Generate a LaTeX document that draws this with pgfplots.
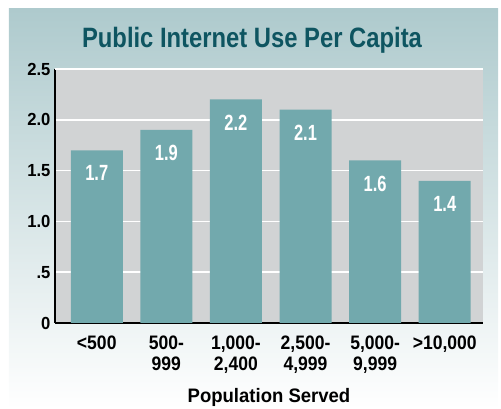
\documentclass[border=0pt]{standalone}
\usepackage{pgfplots}
\pgfplotsset{compat=1.18}
\usepackage{fontspec}
\setmainfont{Liberation Sans}[FakeStretch=0.9]
\newfontfamily\titlef{Liberation Sans}[FakeStretch=0.85]
\newfontfamily\tickf{Liberation Sans}[FakeStretch=0.95]
\newfontfamily\xtickf{Liberation Sans}[FakeStretch=0.9]
\newfontfamily\barf{Liberation Sans}[FakeStretch=0.75]
\newfontfamily\labf{Liberation Sans}[FakeStretch=0.95]
\definecolor{barc}{HTML}{72A9AD}
\definecolor{plotbg}{HTML}{D1D3D4}
\definecolor{titlec}{HTML}{0E5561}
\definecolor{paneltop}{HTML}{AECACD}
\begin{document}
\begin{tikzpicture}
\useasboundingbox (-55pt,-86pt) rectangle (446pt,323pt);
\shade[top color=paneltop, bottom color=white] (-46pt,-86pt) rectangle (443pt,314pt);
\node[font=\titlef\bfseries\fontsize{28}{30}\selectfont, text=titlec] at (197pt,283pt) {Public Internet Use Per Capita};
\begin{axis}[
  at={(0pt,0pt)}, anchor=south west,
  scale only axis, width=428pt, height=254pt,
  xmin=-0.6, xmax=5.55, ymin=0, ymax=2.5,
  axis background/.style={fill=plotbg},
  axis x line*=bottom, axis y line*=left,
  axis line style={black, line width=1.5pt},
  ytick={0,0.5,1,1.5,2,2.5}, yticklabels={0,.5,1.0,1.5,2.0,2.5},
  yticklabel style={font=\tickf\bfseries\fontsize{17.5}{17.5}\selectfont, xshift=-1pt},
  ymajorgrids, grid style={white, line width=1.5pt},
  major tick length=0pt,
  xtick={0,1,2,3,4,5},
  xticklabels={{<500},{500-\\999},{1,000-\\2,400},{2,500-\\4,999},{5,000-\\9,999},{>10,000}},
  xticklabel style={align=center, anchor=north, font=\xtickf\bfseries\fontsize{19.5}{21}\selectfont, yshift=-9pt},
  xlabel={Population Served},
  xlabel style={font=\labf\bfseries\fontsize{19.5}{21}\selectfont, yshift=-8pt},
  ybar, bar width=52pt,
  nodes near coords,
  /pgf/number format/assume math mode=true,
  /pgf/number format/fixed, /pgf/number format/fixed zerofill, /pgf/number format/precision=1,
  nodes near coords style={text=white, font=\barf\bfseries\fontsize{22}{22}\selectfont, anchor=center, yshift=-23pt},
]
\addplot[fill=barc, draw=none] coordinates {(0,1.7) (1,1.9) (2,2.2) (3,2.1) (4,1.6) (5,1.4)};
\draw[white, line width=2pt] (axis cs:-0.6,2.5) -- (axis cs:5.55,2.5);
\end{axis}
\end{tikzpicture}
\end{document}
